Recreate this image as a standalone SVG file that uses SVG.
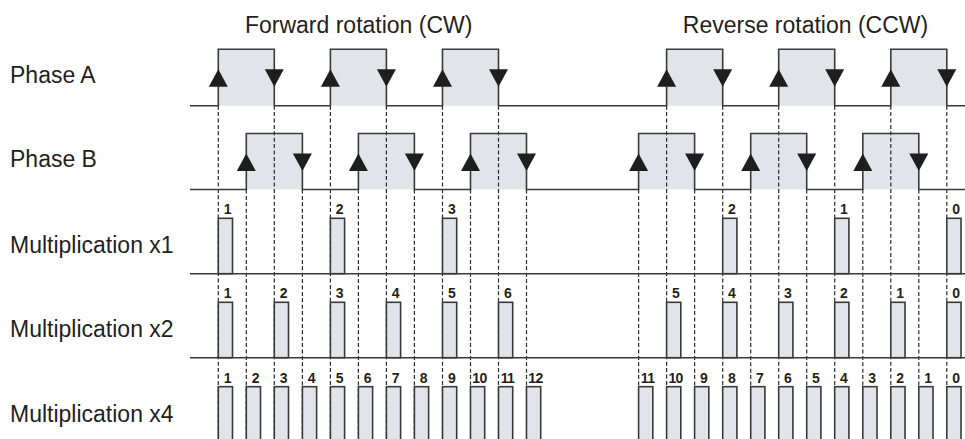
<svg xmlns="http://www.w3.org/2000/svg" xmlns:xlink="http://www.w3.org/1999/xlink" width="965" height="439" viewBox="0 0 965 439">
<style>
.t{font-family:"Liberation Sans",Arial,sans-serif;font-size:23px;fill:#231f20}
.n{font-family:"Liberation Sans",Arial,sans-serif;font-size:14px;font-weight:bold;fill:#231f20;text-anchor:middle;letter-spacing:-0.6px}
.f{fill:#e1e4e9;stroke:none}
.w{fill:none;stroke:#3a3a3a;stroke-width:1.6}
.p{fill:#e1e4e9;stroke:#3a3a3a;stroke-width:1.6}
.d{stroke:#2a2a2a;stroke-width:1.2;stroke-dasharray:4 2.4;fill:none}
.ar{fill:#1e1e1e}
</style>
<defs>
<path id="au" class="ar" d="M0,0 L9.5,17.5 L-9.5,17.5Z"/>
<path id="ad" class="ar" d="M-9.5,0 L9.5,0 L0,17.5Z"/>
</defs>
<rect width="965" height="439" fill="#fff"/>
<g id="titles">
<text class="t" x="358.7" y="33" text-anchor="middle">Forward rotation (CW)</text>
<text class="t" x="805.5" y="33" text-anchor="middle">Reverse rotation (CCW)</text>
</g>
<g id="labels">
<text class="t" x="10" y="83.3">Phase A</text>
<text class="t" x="10" y="166.7">Phase B</text>
<text class="t" x="10" y="253.3">Multiplication x1</text>
<text class="t" x="10" y="337">Multiplication x2</text>
<text class="t" x="10" y="421.7">Multiplication x4</text>
</g>
<g id="fills">
<rect class="f" x="218.3" y="49.3" width="56" height="56.4"/>
<rect class="f" x="330.4" y="49.3" width="56" height="56.4"/>
<rect class="f" x="442.5" y="49.3" width="56" height="56.4"/>
<rect class="f" x="666.6" y="49.3" width="56.1" height="56.4"/>
<rect class="f" x="778.7" y="49.3" width="56" height="56.4"/>
<rect class="f" x="890.8" y="49.3" width="56" height="56.4"/>
<rect class="f" x="246.3" y="133.5" width="56.1" height="56"/>
<rect class="f" x="358.4" y="133.5" width="56" height="56"/>
<rect class="f" x="470.5" y="133.5" width="56" height="56"/>
<rect class="f" x="638.6" y="133.5" width="56" height="56"/>
<rect class="f" x="750.7" y="133.5" width="56" height="56"/>
<rect class="f" x="862.8" y="133.5" width="56" height="56"/>
</g>
<g id="connectors">
<path class="d" d="M218.3,105.7V439M274.3,105.7V439M330.4,105.7V439M386.4,105.7V439M442.5,105.7V439M498.5,105.7V439M666.6,105.7V439M722.7,105.7V439M778.7,105.7V439M834.7,105.7V439M890.8,105.7V439M946.8,105.7V439"/>
<path class="d" d="M246.3,189.5V439M302.4,189.5V439M358.4,189.5V439M414.4,189.5V439M470.5,189.5V439M526.5,189.5V439M638.6,189.5V439M694.6,189.5V439M750.7,189.5V439M806.7,189.5V439M862.8,189.5V439M918.8,189.5V439"/>
</g>
<g id="phaseA">
<path class="w" d="M190,105.7H218.3V49.3H274.3V105.7H330.4V49.3H386.4V105.7H442.5V49.3H498.5V105.7H666.6V49.3H722.7V105.7H778.7V49.3H834.7V105.7H890.8V49.3H946.8V105.7H965"/>
<use xlink:href="#au" x="218.3" y="69.3"/><use xlink:href="#au" x="330.4" y="69.3"/><use xlink:href="#au" x="442.5" y="69.3"/>
<use xlink:href="#au" x="666.6" y="69.3"/><use xlink:href="#au" x="778.7" y="69.3"/><use xlink:href="#au" x="890.8" y="69.3"/>
<use xlink:href="#ad" x="274.3" y="69.3"/><use xlink:href="#ad" x="386.4" y="69.3"/><use xlink:href="#ad" x="498.5" y="69.3"/>
<use xlink:href="#ad" x="722.7" y="69.3"/><use xlink:href="#ad" x="834.7" y="69.3"/><use xlink:href="#ad" x="946.8" y="69.3"/>
</g>
<g id="phaseB">
<path class="w" d="M190,189.5H246.3V133.5H302.4V189.5H358.4V133.5H414.4V189.5H470.5V133.5H526.5V189.5H638.6V133.5H694.6V189.5H750.7V133.5H806.7V189.5H862.8V133.5H918.8V189.5H965"/>
<use xlink:href="#au" x="246.3" y="153.5"/><use xlink:href="#au" x="358.4" y="153.5"/><use xlink:href="#au" x="470.5" y="153.5"/>
<use xlink:href="#au" x="638.6" y="153.5"/><use xlink:href="#au" x="750.7" y="153.5"/><use xlink:href="#au" x="862.8" y="153.5"/>
<use xlink:href="#ad" x="302.4" y="153.5"/><use xlink:href="#ad" x="414.4" y="153.5"/><use xlink:href="#ad" x="526.5" y="153.5"/>
<use xlink:href="#ad" x="694.6" y="153.5"/><use xlink:href="#ad" x="806.7" y="153.5"/><use xlink:href="#ad" x="918.8" y="153.5"/>
</g>
<g id="mult1">
<path class="w" d="M190,273.7H965"/>
<rect class="p" x="218.3" y="218.3" width="14.2" height="55.4"/>
<rect class="p" x="330.4" y="218.3" width="14.2" height="55.4"/>
<rect class="p" x="442.5" y="218.3" width="14.2" height="55.4"/>
<rect class="p" x="722.7" y="218.3" width="14.2" height="55.4"/>
<rect class="p" x="834.7" y="218.3" width="14.2" height="55.4"/>
<rect class="p" x="946.8" y="218.3" width="14.2" height="55.4"/>
<text class="n" x="227.3" y="214.3">1</text>
<text class="n" x="339.4" y="214.3">2</text>
<text class="n" x="451.5" y="214.3">3</text>
<text class="n" x="731.7" y="214.3">2</text>
<text class="n" x="843.7" y="214.3">1</text>
<text class="n" x="955.8" y="214.3">0</text>
</g>
<g id="mult2">
<path class="w" d="M190,357.7H965"/>
<rect class="p" x="218.3" y="302.3" width="14.2" height="55.4"/>
<rect class="p" x="274.3" y="302.3" width="14.2" height="55.4"/>
<rect class="p" x="330.4" y="302.3" width="14.2" height="55.4"/>
<rect class="p" x="386.4" y="302.3" width="14.2" height="55.4"/>
<rect class="p" x="442.5" y="302.3" width="14.2" height="55.4"/>
<rect class="p" x="498.5" y="302.3" width="14.2" height="55.4"/>
<rect class="p" x="666.6" y="302.3" width="14.2" height="55.4"/>
<rect class="p" x="722.7" y="302.3" width="14.2" height="55.4"/>
<rect class="p" x="778.7" y="302.3" width="14.2" height="55.4"/>
<rect class="p" x="834.7" y="302.3" width="14.2" height="55.4"/>
<rect class="p" x="890.8" y="302.3" width="14.2" height="55.4"/>
<rect class="p" x="946.8" y="302.3" width="14.2" height="55.4"/>
<text class="n" x="227.3" y="298.3">1</text>
<text class="n" x="283.3" y="298.3">2</text>
<text class="n" x="339.4" y="298.3">3</text>
<text class="n" x="395.4" y="298.3">4</text>
<text class="n" x="451.5" y="298.3">5</text>
<text class="n" x="507.5" y="298.3">6</text>
<text class="n" x="675.6" y="298.3">5</text>
<text class="n" x="731.7" y="298.3">4</text>
<text class="n" x="787.7" y="298.3">3</text>
<text class="n" x="843.7" y="298.3">2</text>
<text class="n" x="899.8" y="298.3">1</text>
<text class="n" x="955.8" y="298.3">0</text>
</g>
<g id="mult4">
<rect class="p" x="218.3" y="386.7" width="14.2" height="60"/>
<rect class="p" x="246.3" y="386.7" width="14.2" height="60"/>
<rect class="p" x="274.3" y="386.7" width="14.2" height="60"/>
<rect class="p" x="302.4" y="386.7" width="14.2" height="60"/>
<rect class="p" x="330.4" y="386.7" width="14.2" height="60"/>
<rect class="p" x="358.4" y="386.7" width="14.2" height="60"/>
<rect class="p" x="386.4" y="386.7" width="14.2" height="60"/>
<rect class="p" x="414.4" y="386.7" width="14.2" height="60"/>
<rect class="p" x="442.5" y="386.7" width="14.2" height="60"/>
<rect class="p" x="470.5" y="386.7" width="14.2" height="60"/>
<rect class="p" x="498.5" y="386.7" width="14.2" height="60"/>
<rect class="p" x="526.5" y="386.7" width="14.2" height="60"/>
<rect class="p" x="638.6" y="386.7" width="14.2" height="60"/>
<rect class="p" x="666.6" y="386.7" width="14.2" height="60"/>
<rect class="p" x="694.6" y="386.7" width="14.2" height="60"/>
<rect class="p" x="722.7" y="386.7" width="14.2" height="60"/>
<rect class="p" x="750.7" y="386.7" width="14.2" height="60"/>
<rect class="p" x="778.7" y="386.7" width="14.2" height="60"/>
<rect class="p" x="806.7" y="386.7" width="14.2" height="60"/>
<rect class="p" x="834.7" y="386.7" width="14.2" height="60"/>
<rect class="p" x="862.8" y="386.7" width="14.2" height="60"/>
<rect class="p" x="890.8" y="386.7" width="14.2" height="60"/>
<rect class="p" x="918.8" y="386.7" width="14.2" height="60"/>
<rect class="p" x="946.8" y="386.7" width="14.2" height="60"/>
<text class="n" x="227.3" y="382.7">1</text>
<text class="n" x="255.3" y="382.7">2</text>
<text class="n" x="283.3" y="382.7">3</text>
<text class="n" x="311.4" y="382.7">4</text>
<text class="n" x="339.4" y="382.7">5</text>
<text class="n" x="367.4" y="382.7">6</text>
<text class="n" x="395.4" y="382.7">7</text>
<text class="n" x="423.4" y="382.7">8</text>
<text class="n" x="451.5" y="382.7">9</text>
<text class="n" x="479.5" y="382.7">10</text>
<text class="n" x="507.5" y="382.7">11</text>
<text class="n" x="535.5" y="382.7">12</text>
<text class="n" x="647.6" y="382.7">11</text>
<text class="n" x="675.6" y="382.7">10</text>
<text class="n" x="703.6" y="382.7">9</text>
<text class="n" x="731.7" y="382.7">8</text>
<text class="n" x="759.7" y="382.7">7</text>
<text class="n" x="787.7" y="382.7">6</text>
<text class="n" x="815.7" y="382.7">5</text>
<text class="n" x="843.7" y="382.7">4</text>
<text class="n" x="871.8" y="382.7">3</text>
<text class="n" x="899.8" y="382.7">2</text>
<text class="n" x="927.8" y="382.7">1</text>
<text class="n" x="955.8" y="382.7">0</text>
</g>
</svg>
